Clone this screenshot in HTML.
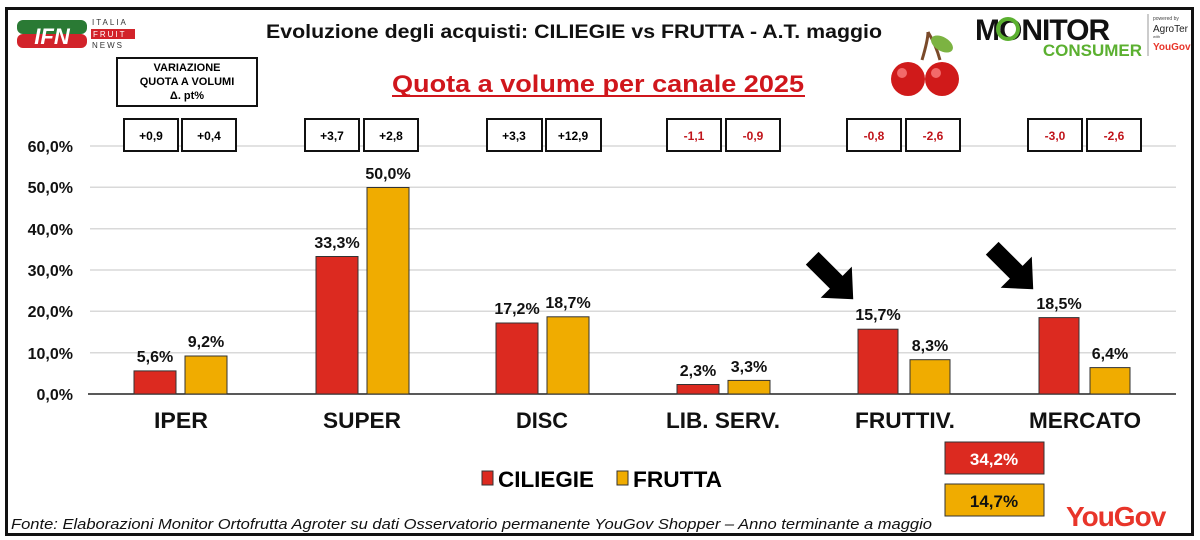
<!DOCTYPE html>
<html><head><meta charset="utf-8"><style>
body{margin:0;background:#fff;}
svg{display:block;font-family:"Liberation Sans",Arial,sans-serif;}
</style></head><body>
<svg width="1200" height="540" viewBox="0 0 1200 540" xmlns="http://www.w3.org/2000/svg">
<rect x="0" y="0" width="1200" height="540" fill="#fff"/>
<rect x="6.5" y="8.5" width="1186" height="526" fill="none" stroke="#111" stroke-width="3"/>
<!-- IFN logo -->
<rect x="17" y="20" width="70" height="14" rx="6" fill="#2a7a34"/>
<rect x="17" y="34" width="70" height="14" rx="6" fill="#d2232a"/>
<text x="52" y="44" font-size="22" font-weight="bold" fill="#fff" text-anchor="middle" font-style="italic">IFN</text>
<text x="92" y="25" font-size="8" fill="#333" letter-spacing="2">ITALIA</text>
<rect x="91" y="29" width="44" height="10" fill="#d2232a"/>
<text x="93" y="37" font-size="8" fill="#fff" letter-spacing="2">FRUIT</text>
<text x="92" y="48" font-size="8" fill="#333" letter-spacing="2">NEWS</text>
<!-- title -->
<text x="266" y="38" font-size="19" font-weight="bold" fill="#111" textLength="616" lengthAdjust="spacingAndGlyphs">Evoluzione degli acquisti: CILIEGIE vs FRUTTA  - A.T. maggio</text>
<text x="392" y="92" font-size="24" font-weight="bold" fill="#d0161c" textLength="412" lengthAdjust="spacingAndGlyphs">Quota a volume per canale 2025</text>
<line x1="392" y1="96" x2="805" y2="96" stroke="#d0161c" stroke-width="2"/>
<!-- cherries -->
<path d="M922 60 Q928 40 928 32 M940 60 Q936 45 928 32" stroke="#7a4a2a" stroke-width="3" fill="none"/>
<ellipse cx="942" cy="44" rx="12" ry="7" fill="#7cb342" transform="rotate(30 942 44)"/>
<circle cx="908" cy="79" r="17" fill="#d01a1a"/><circle cx="942" cy="79" r="17" fill="#d01a1a"/>
<circle cx="902" cy="73" r="5" fill="#f26a6a"/><circle cx="936" cy="73" r="5" fill="#f26a6a"/>
<!-- monitor consumer -->
<text x="975" y="40" font-size="30" font-weight="bold" fill="#111" letter-spacing="-1">MONITOR</text>
<circle cx="1008" cy="29" r="10" fill="none" stroke="#5bb030" stroke-width="4"/>
<text x="1142" y="56" font-size="17" font-weight="bold" fill="#5bb030" text-anchor="end">CONSUMER</text>
<line x1="1148" y1="14" x2="1148" y2="56" stroke="#999"/>
<text x="1153" y="20" font-size="5" fill="#444">powered by</text>
<text x="1153" y="32" font-size="10" fill="#222">AgroTer</text>
<text x="1153" y="38" font-size="4" fill="#444">with</text>
<text x="1153" y="50" font-size="10" fill="#e8352a" font-weight="bold">YouGov</text>
<!-- variazione box -->
<rect x="117" y="58" width="140" height="48" fill="#fff" stroke="#111" stroke-width="2"/>
<text x="187" y="71" font-size="11" font-weight="bold" text-anchor="middle">VARIAZIONE</text>
<text x="187" y="85" font-size="11" font-weight="bold" text-anchor="middle">QUOTA A VOLUMI</text>
<text x="187" y="99" font-size="11" font-weight="bold" text-anchor="middle">Δ. pt%</text>
<!-- grid -->
<g stroke="#d9d9d9" stroke-width="1.5">
<line x1="90" y1="146" x2="1176" y2="146"/><line x1="90" y1="187.3" x2="1176" y2="187.3"/>
<line x1="90" y1="228.7" x2="1176" y2="228.7"/><line x1="90" y1="270" x2="1176" y2="270"/>
<line x1="90" y1="311.3" x2="1176" y2="311.3"/><line x1="90" y1="352.7" x2="1176" y2="352.7"/>
</g>
<line x1="88" y1="394" x2="1176" y2="394" stroke="#222" stroke-width="1.5"/>
<g font-size="16" font-weight="bold" text-anchor="end" fill="#111">
<text x="73" y="152">60,0%</text><text x="73" y="193">50,0%</text><text x="73" y="235">40,0%</text>
<text x="73" y="276">30,0%</text><text x="73" y="317">20,0%</text><text x="73" y="359">10,0%</text><text x="73" y="400">0,0%</text>
</g>
<g stroke="#333" stroke-width="1">
<rect x="134" y="370.9" width="42" height="23.1" fill="#dc2a20"/><rect x="185" y="356" width="42" height="38" fill="#f0ac00"/>
<rect x="316" y="256.5" width="42" height="137.5" fill="#dc2a20"/><rect x="367" y="187.5" width="42" height="206.5" fill="#f0ac00"/>
<rect x="496" y="323" width="42" height="71" fill="#dc2a20"/><rect x="547" y="316.8" width="42" height="77.2" fill="#f0ac00"/>
<rect x="677" y="384.5" width="42" height="9.5" fill="#dc2a20"/><rect x="728" y="380.4" width="42" height="13.6" fill="#f0ac00"/>
<rect x="858" y="329.2" width="40" height="64.8" fill="#dc2a20"/><rect x="910" y="359.7" width="40" height="34.3" fill="#f0ac00"/>
<rect x="1039" y="317.6" width="40" height="76.4" fill="#dc2a20"/><rect x="1090" y="367.6" width="40" height="26.4" fill="#f0ac00"/>
</g>
<g font-size="16" font-weight="bold" text-anchor="middle" fill="#111">
<text x="155" y="362">5,6%</text><text x="206" y="347">9,2%</text>
<text x="337" y="248">33,3%</text><text x="388" y="179">50,0%</text>
<text x="517" y="314">17,2%</text><text x="568" y="308">18,7%</text>
<text x="698" y="376">2,3%</text><text x="749" y="372">3,3%</text>
<text x="878" y="320">15,7%</text><text x="930" y="351">8,3%</text>
<text x="1059" y="309">18,5%</text><text x="1110" y="359">6,4%</text>
</g>
<g font-size="22" font-weight="bold" text-anchor="middle" fill="#111" lengthAdjust="spacingAndGlyphs">
<text x="181" y="428" textLength="54" lengthAdjust="spacingAndGlyphs">IPER</text>
<text x="362" y="428" textLength="78" lengthAdjust="spacingAndGlyphs">SUPER</text>
<text x="542" y="428" textLength="52" lengthAdjust="spacingAndGlyphs">DISC</text>
<text x="723" y="428" textLength="114" lengthAdjust="spacingAndGlyphs">LIB. SERV.</text>
<text x="905" y="428" textLength="100" lengthAdjust="spacingAndGlyphs">FRUTTIV.</text>
<text x="1085" y="428" textLength="112" lengthAdjust="spacingAndGlyphs">MERCATO</text>
</g>
<g fill="#fff" stroke="#111" stroke-width="2">
<rect x="124" y="119" width="54" height="32"/><rect x="182" y="119" width="54" height="32"/>
<rect x="305" y="119" width="54" height="32"/><rect x="364" y="119" width="54" height="32"/>
<rect x="487" y="119" width="55" height="32"/><rect x="546" y="119" width="55" height="32"/>
<rect x="667" y="119" width="54" height="32"/><rect x="726" y="119" width="54" height="32"/>
<rect x="847" y="119" width="54" height="32"/><rect x="906" y="119" width="54" height="32"/>
<rect x="1028" y="119" width="54" height="32"/><rect x="1087" y="119" width="54" height="32"/>
</g>
<g font-size="12" font-weight="bold" text-anchor="middle">
<text x="151" y="140">+0,9</text><text x="209" y="140">+0,4</text>
<text x="332" y="140">+3,7</text><text x="391" y="140">+2,8</text>
<text x="514" y="140">+3,3</text><text x="573" y="140">+12,9</text>
<g fill="#c0141a"><text x="694" y="140">-1,1</text><text x="753" y="140">-0,9</text>
<text x="874" y="140">-0,8</text><text x="933" y="140">-2,6</text>
<text x="1055" y="140">-3,0</text><text x="1114" y="140">-2,6</text></g>
</g>
<!-- arrows pointing down-right -->
<g transform="translate(832 278) rotate(45)">
<polygon points="-28,-9 6,-9 6,-22 30,0 6,22 6,9 -28,9" fill="#000"/>
</g>
<g transform="translate(1012 268) rotate(45)">
<polygon points="-28,-9 6,-9 6,-22 30,0 6,22 6,9 -28,9" fill="#000"/>
</g>
<rect x="482" y="471" width="11" height="14" fill="#dc2a20" stroke="#333"/>
<text x="498" y="487" font-size="22" font-weight="bold" textLength="96" lengthAdjust="spacingAndGlyphs">CILIEGIE</text>
<rect x="617" y="471" width="11" height="14" fill="#f0ac00" stroke="#333"/>
<text x="633" y="487" font-size="22" font-weight="bold" textLength="89" lengthAdjust="spacingAndGlyphs">FRUTTA</text>
<rect x="945" y="442" width="99" height="32" fill="#dc2a20" stroke="#333"/>
<text x="994" y="465" font-size="17" font-weight="bold" fill="#fff" text-anchor="middle">34,2%</text>
<rect x="945" y="484" width="99" height="32" fill="#f0ac00" stroke="#333"/>
<text x="994" y="507" font-size="17" font-weight="bold" fill="#111" text-anchor="middle">14,7%</text>
<text x="1066" y="526" font-size="28" font-weight="bold" fill="#e8352a" letter-spacing="-1">YouGov</text>
<text x="11" y="529" font-size="15" font-style="italic" fill="#111" textLength="921" lengthAdjust="spacingAndGlyphs">Fonte: Elaborazioni Monitor Ortofrutta Agroter su dati Osservatorio permanente YouGov Shopper  – Anno terminante a maggio</text>
</svg>
</body></html>
